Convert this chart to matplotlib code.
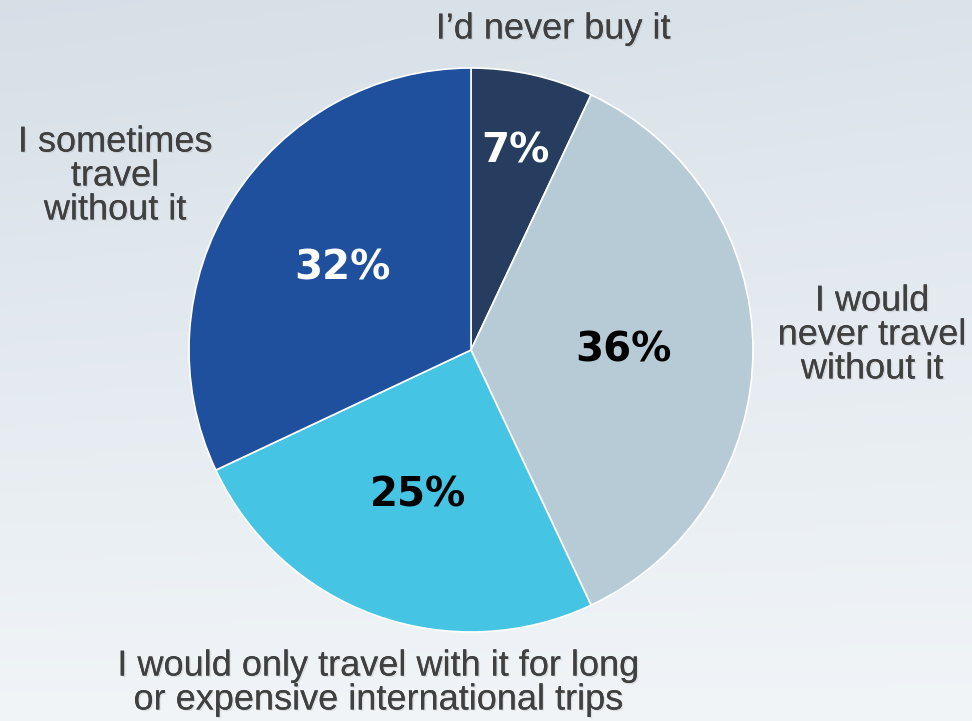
import matplotlib
matplotlib.use("Agg")
import matplotlib.pyplot as plt
import matplotlib.patheffects as pe
import numpy as np

# survey answers, clockwise from 12 o'clock
labels = ["I\u2019d never buy it",
          "I would\nnever travel\nwithout it",
          "I would only travel with it for long\nor expensive international trips",
          "I sometimes\ntravel\nwithout it"]
shares = [7, 36, 25, 32]
colors = ["#263d5f", "#b7cbd6", "#45c4e4", "#1f509d"]
pct_colors = ["white", "black", "black", "white"]

W, H = 972, 721
fig = plt.figure(figsize=(W / 100, H / 100), dpi=100)
ax = fig.add_axes([0, 0, 1, 1])

cx, cy, R = 471, H - 350, 282
wedges, _ = ax.pie(shares, colors=colors, startangle=90, counterclock=False,
                   center=(cx, cy), radius=R,
                   wedgeprops=dict(edgecolor="white", linewidth=1.2))
for w in wedges:
    w.set_zorder(2)

ax.set_aspect("equal")
ax.axis("off")

# soft background gradient
yy, xx = np.mgrid[0:1:200j, 0:1:200j]
t = np.clip(0.8 * yy + 0.2 * (1 - xx) * yy, 0, 1)
top = np.array([0.84, 0.875, 0.905])
bot = np.array([0.945, 0.96, 0.972])
bg = bot[None, None, :] * (1 - t[..., None]) + top[None, None, :] * t[..., None]
ax.imshow(bg, extent=[0, W, 0, H], origin="lower", zorder=0, aspect="auto")
ax.set_xlim(0, W)
ax.set_ylim(0, H)

# percentage labels inside the slices
dist = [0.72, 0.54, 0.55, 0.54]
for w, s, c, d in zip(wedges, shares, pct_colors, dist):
    ang = np.deg2rad((w.theta1 + w.theta2) / 2)
    ax.text(cx + d * R * np.cos(ang), cy + d * R * np.sin(ang), f"{s}%",
            ha="center", va="center", fontsize=29, fontweight="bold",
            color=c, family="DejaVu Sans", zorder=3)

# category labels around the pie
label_pos = [(553, 29), (872, 335), (378, 683), (115, 176)]
shadow = [pe.withSimplePatchShadow(offset=(1, -1), shadow_rgbFace="#8a9299", alpha=0.22),
          pe.Normal()]
for lab, (x, y) in zip(labels, label_pos):
    ax.text(x, H - y, lab, ha="center", va="center", fontsize=26,
            color="#404040", family="Liberation Sans", linespacing=0.96,
            path_effects=shadow, zorder=3)

fig.savefig("out.png", dpi=100)
